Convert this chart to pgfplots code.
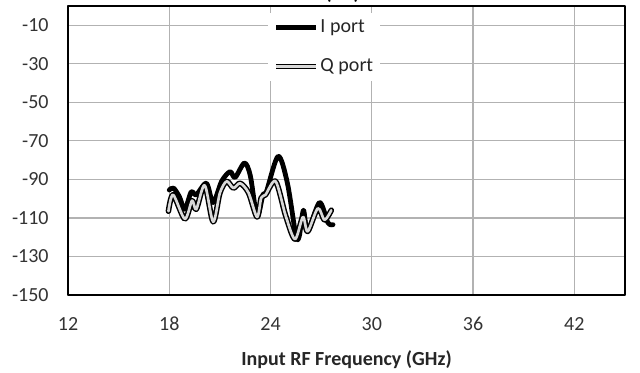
\documentclass[border=0pt]{standalone}
\usepackage{fontspec}
\setmainfont{Carlito}
\usepackage{pgfplots}
\pgfplotsset{compat=1.18}

\newcommand{\chartfont}{\fontsize{15pt}{17pt}\selectfont}

\begin{document}
\begin{tikzpicture}
% page size = reference frame (640 x 372 px at 0.75 pt/px)
\useasboundingbox (-51pt,-57.75pt) rectangle (429pt,221.25pt);
\begin{axis}[
    name=ax,
    at={(0,0)}, anchor=south west,
    scale only axis,
    width=417.75pt, height=216.75pt,
    xmin=12, xmax=45, ymin=-150, ymax=0,
    xtick={12,18,...,42},
    ytick={-150,-130,...,-10},
    grid=major,
    major grid style={line width=0.9pt, black!30},
    major tick length=0pt,
    axis line style={line width=2.2pt, black},
    /pgf/number format/assume math mode=true,
    tick label style={font=\chartfont, text=black!80},
    xticklabel style={yshift=-13pt},
    yticklabel style={xshift=-11pt},
    xlabel={\bfseries Input RF Frequency (GHz)},
    xlabel style={font=\chartfont, text=black!85, yshift=-8pt},
    legend style={
        at={(rel axis cs:0.359,0.975)}, anchor=north west,
        fill=white, draw=none, font=\chartfont, text=black!85,
        row sep=16pt, inner sep=4pt, nodes={inner sep=1pt}},
    legend cell align=left,
    legend image code/.code={\draw[#1] (0pt,0pt) -- (30pt,0pt);},
    line join=round, line cap=round,
]
\addplot[black, line width=3.6pt, smooth] coordinates {
    (18.0,-95.5) (18.25,-94.5) (18.6,-99) (18.92,-105.5) (19.3,-96.5)
    (19.6,-98) (20.2,-92) (20.6,-102) (21.1,-91) (21.6,-86) (21.9,-89)
    (22.45,-81.5) (22.8,-88) (23.2,-109) (23.55,-98) (23.75,-96.5)
    (24.45,-78) (25.0,-92) (25.5,-119) (25.7,-119.5) (25.95,-106)
    (26.2,-117) (26.9,-102) (27.4,-112.5) (27.7,-113.5)
};
\addlegendentry{I port}
\addplot[black, line width=1.1pt, double=black!15, double distance=2pt, smooth] coordinates {
    (17.95,-106.5) (18.23,-98) (18.92,-110.5) (19.35,-101) (19.6,-105.5)
    (20.1,-93) (20.6,-112) (21.0,-97) (21.4,-91) (21.8,-94.5) (22.2,-92)
    (22.7,-97) (23.2,-109.5) (23.45,-99.5) (23.7,-98) (24.3,-91)
    (24.9,-109) (25.45,-121) (25.92,-109.5) (26.2,-117) (26.8,-105)
    (27.2,-111) (27.6,-106)
};
\addlegendentry{Q port}
\end{axis}
\node[anchor=base, font=\chartfont\bfseries] at (205.9pt,221.25pt) {(dB)};
\end{tikzpicture}
\end{document}
